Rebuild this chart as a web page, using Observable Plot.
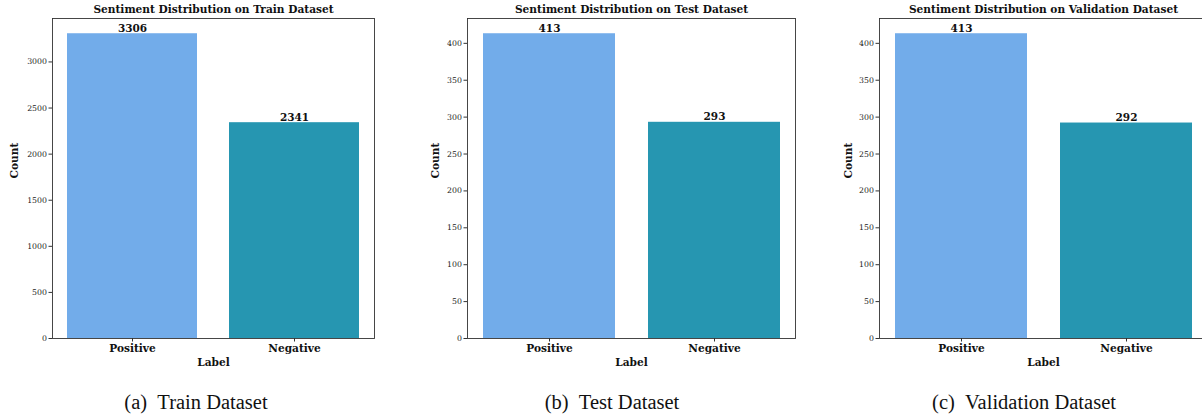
<!DOCTYPE html>
<html>
<head>
<meta charset="utf-8">
<script src="https://cdn.jsdelivr.net/npm/d3@7"></script>
<script src="https://cdn.jsdelivr.net/npm/@observablehq/plot@0.6"></script>
<style>
  body { margin: 0; background: #fff; }
  #wrap { position: relative; width: 1202px; height: 420px; overflow: hidden; background: #fff; }
  .panel { position: absolute; top: 0; }
  .panel svg { max-width: none !important; display: block; }
  .caption { position: absolute; top: 391px; font-family: "Liberation Serif", "Times New Roman", serif; font-size: 20.5px; color: #111; white-space: nowrap; transform: translateX(-50%); }
</style>
</head>
<body>
<div id="wrap"></div>
<script>
const labels = ["Positive", "Negative"];
const trainCounts = [3306, 2341];
const testCounts = [413, 293];
const valCounts = [413, 292];
const trainTicks = [0, 500, 1000, 1500, 2000, 2500, 3000];
const smallTicks = [0, 50, 100, 150, 200, 250, 300, 350, 400];
const titles = [
  "Sentiment Distribution on Train Dataset",
  "Sentiment Distribution on Test Dataset",
  "Sentiment Distribution on Validation Dataset"
];
const captions = ["(a)\u2002Train Dataset", "(b)\u2002Test Dataset", "(c)\u2002Validation Dataset"];
const barColors = ["#72ACEA", "#2696B1"];

const FONT = "DejaVu Serif";
const wrap = document.getElementById("wrap");

function panel(counts, ticks, title, cfg) {
  const data = labels.map((l, i) => ({label: l, count: counts[i]}));
  const ymax = d3.max(counts) * 1.05;
  const p = Plot.plot({
    width: cfg.width,
    height: 370,
    marginLeft: cfg.ml,
    marginRight: cfg.mr,
    marginTop: 18,
    marginBottom: 32,
    style: {fontFamily: FONT, background: "white", overflow: "visible", maxWidth: "none"},
    x: {domain: labels, paddingInner: 0.2, paddingOuter: 0.09},
    y: {domain: [0, ymax]},
    color: {domain: labels, range: barColors},
    marks: [
      Plot.barY(data, {x: "label", y: "count", fill: "label"}),
      Plot.text(data, {x: "label", y: "count", text: d => String(d.count), lineAnchor: "bottom", dy: -2, fontWeight: "bold", fontSize: 10.5, fill: "#111"}),
      Plot.frame({stroke: "#333", strokeWidth: 0.9}),
      Plot.axisY({ticks: ticks, tickFormat: d3.format("d"), tickSize: 3.5, tickPadding: 2, fontSize: 7.8, label: null, stroke: "#333", fill: "#222"}),
      Plot.axisX({tickSize: 3.5, tickPadding: 2, fontSize: 10.6, fontWeight: "bold", label: null, stroke: "#333", fill: "#111"}),
      Plot.text([title], {frameAnchor: "top", dy: -9, lineAnchor: "middle", fontWeight: "bold", fontSize: 10.6, fill: "#111"}),
      Plot.text(["Count"], {frameAnchor: "left", rotate: -90, dx: -cfg.ydx, lineAnchor: "middle", fontWeight: "bold", fontSize: 10.6, fill: "#111"}),
      Plot.text(["Label"], {frameAnchor: "bottom", dy: 24, lineAnchor: "middle", fontWeight: "bold", fontSize: 10.6, fill: "#111"})
    ]
  });
  const d = document.createElement("div");
  d.className = "panel";
  d.style.left = cfg.left + "px";
  d.style.width = cfg.width + "px";
  d.appendChild(p);
  wrap.appendChild(d);
  const c = document.createElement("div");
  c.className = "caption";
  c.style.left = cfg.cx + "px";
  c.textContent = cfg.caption;
  wrap.appendChild(c);
}

panel(trainCounts, trainTicks, titles[0], {left: 0, width: 380, ml: 52, mr: 6, ydx: 38, cx: 196, caption: captions[0]});
panel(testCounts, smallTicks, titles[1], {left: 400, width: 400, ml: 67, mr: 5, ydx: 32, cx: 612, caption: captions[1]});
panel(valCounts, smallTicks, titles[2], {left: 812, width: 400, ml: 67, mr: 5, ydx: 31, cx: 1024, caption: captions[2]});
</script>
</body>
</html>
